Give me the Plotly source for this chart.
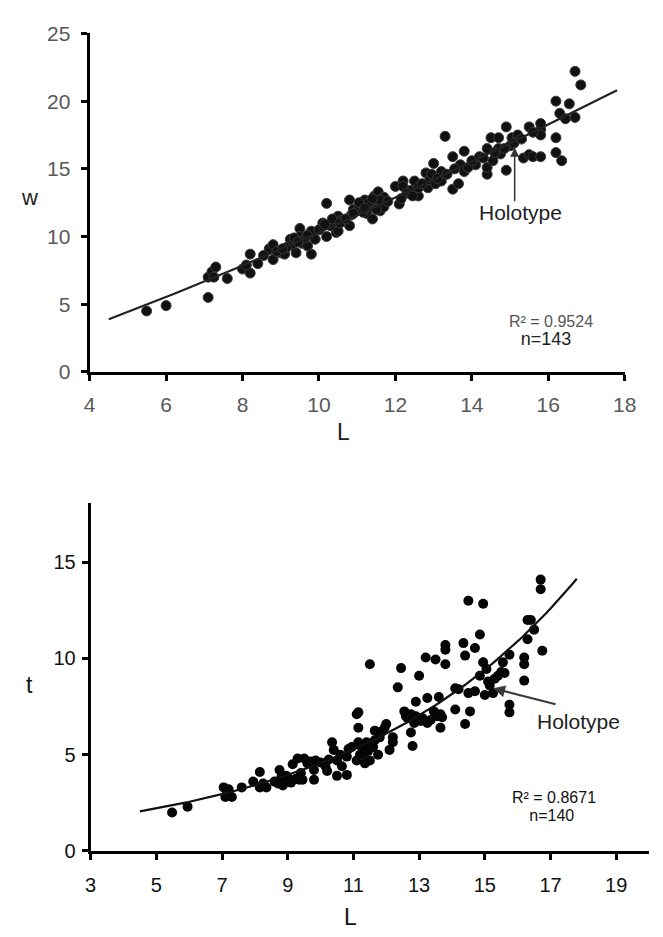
import plotly.graph_objects as go
import numpy as np

W, H = 663, 937

# ---------------- Data: upper panel (w vs L) ----------------
w_L = [5.49, 6.0, 7.1, 7.1, 7.2, 7.3, 7.6, 8.0, 8.2, 8.2, 8.4, 8.7, 8.8, 8.8, 9.0, 9.1,
       9.25, 9.3, 9.4, 9.5, 9.5, 9.55, 9.7, 9.8, 9.8, 9.9, 10.1, 10.2, 10.2, 10.4, 10.45,
       10.5, 10.5, 10.6, 10.8, 10.8, 10.85, 10.9, 11.1, 11.2, 11.25, 11.35, 11.4, 11.45,
       11.5, 11.55, 11.6, 11.7, 11.7, 12.0, 12.1, 12.2, 12.2, 12.4, 12.5, 12.6, 12.6, 12.8,
       12.85, 12.9, 13.0, 13.05, 13.2, 13.2, 13.3, 13.5, 13.5, 13.65, 13.7, 13.8, 13.8, 14.1,
       14.2, 14.4, 14.4, 14.4, 14.5, 14.55, 14.7, 14.7, 14.75, 14.9, 14.9, 15.0, 15.05, 15.2,
       15.35, 15.5, 15.5, 15.6, 15.8, 15.8, 15.8, 15.8, 16.2, 16.2, 16.2, 16.3, 16.35, 16.45,
       16.55, 16.7, 16.7, 16.85,
       9.15, 9.35, 9.45, 9.65, 10.0, 10.3, 10.35, 10.55, 10.7, 11.0, 11.05, 11.15, 11.3, 11.5,
       11.6, 11.4, 11.8, 12.3, 12.45, 12.7, 12.95, 13.1, 13.35, 13.55, 13.9, 14.0, 14.3, 14.6,
       14.85, 15.1, 15.3, 15.6, 7.25, 8.1, 8.55, 8.9, 9.05, 9.7, 10.15, 10.9, 11.2, 12.15]
w_val = [4.5, 4.9, 5.5, 7.0, 7.4, 7.75, 6.9, 7.6, 8.7, 7.3, 8.0, 9.1, 9.4, 8.3, 8.8, 8.7,
         9.8, 9.4, 8.8, 10.6, 10.0, 9.5, 9.3, 8.7, 10.4, 9.8, 11.0, 12.45, 10.0, 11.1, 10.3,
         11.5, 10.4, 11.2, 12.7, 10.8, 11.6, 12.0, 12.3, 12.7, 11.7, 12.2, 11.3, 13.0,
         12.4, 13.3, 11.9, 12.9, 12.2, 13.7, 12.4, 14.1, 13.7, 13.4, 14.1, 13.0, 13.6, 14.7,
         13.6, 14.2, 15.4, 13.9, 14.8, 14.1, 17.4, 13.5, 15.9, 13.9, 15.3, 16.3, 14.8, 15.3,
         15.9, 16.5, 14.6, 15.1, 17.3, 15.6, 16.5, 17.3, 16.1, 18.1, 14.9, 16.7, 17.3, 17.5,
         15.8, 16.05, 18.1, 15.9, 17.9, 18.35, 15.9, 17.5, 20.0, 17.3, 16.2, 19.1, 15.6, 18.7,
         19.8, 22.2, 18.8, 21.2,
         9.2, 9.9, 9.6, 9.9, 10.5, 10.8, 11.3, 11.0, 11.3, 11.9, 12.5, 11.8, 12.5, 12.0,
         12.7, 12.8, 12.6, 13.2, 13.0, 13.9, 14.6, 14.3, 14.6, 15.0, 15.1, 15.6, 15.8, 16.2,
         16.5, 16.9, 17.2, 17.7, 7.0, 7.9, 8.6, 8.9, 9.1, 10.1, 10.9, 11.7, 12.1, 12.8]

# fitted trend (power): w = a * L^b
w_fit_a, w_fit_b = 0.624, 1.218
w_fit_range = [4.5, 17.8]

# ---------------- Data: lower panel (t vs L) ----------------
t_L = [5.48, 5.95, 7.05, 7.1, 7.2, 7.3, 7.6, 7.95, 8.15, 8.15, 8.35, 8.7, 8.75, 8.8, 8.85,
       8.95, 9.1, 9.15, 9.3, 9.35, 9.4, 9.5, 9.6, 9.8, 9.8, 9.85, 10.15, 10.2, 10.35, 10.4,
       10.5, 10.5, 10.65, 10.8, 10.8, 10.85, 11.1, 11.1, 11.15, 11.15, 11.15, 11.3, 11.35,
       11.4, 11.5, 11.5, 11.6, 11.65, 11.65, 11.75, 11.95, 12.1, 12.2, 12.2, 12.35, 12.45,
       12.55, 12.65, 12.75, 12.75, 12.8, 12.85, 12.9, 13.0, 13.05, 13.2, 13.25, 13.25, 13.45,
       13.5, 13.6, 13.65, 13.65, 13.8, 13.8, 13.8, 14.1, 14.1, 14.35, 14.4, 14.4, 14.5, 14.5,
       14.55, 14.7, 14.7, 14.85, 14.85, 14.95, 14.95, 15.0, 15.05, 15.15, 15.25, 15.3, 15.5,
       15.55, 15.75, 15.75, 15.75, 16.2, 16.2, 16.2, 16.3, 16.3, 16.4, 16.5, 16.7, 16.7, 16.75,
       9.0, 9.25, 9.45, 9.7, 10.0, 10.25, 10.6, 10.95, 11.2, 11.25, 11.45, 11.8, 11.85, 12.0,
       12.6, 12.9, 13.1, 13.35, 13.55, 13.7, 15.1, 15.4, 15.6, 7.15, 8.25, 8.6, 14.2]
t_val = [2.0, 2.3, 3.3, 2.8, 3.2, 2.8, 3.3, 3.6, 4.1, 3.3, 3.3, 3.5, 4.2, 3.8, 3.4,
         3.9, 3.55, 4.5, 4.8, 3.7, 4.05, 4.8, 4.55, 3.7, 4.2, 4.7, 4.4, 4.15, 5.65, 5.25,
         3.9, 4.7, 4.4, 3.95, 4.9, 5.3, 4.7, 7.1, 7.2, 6.4, 5.65, 5.05, 4.55,
         5.65, 9.7, 4.7, 5.4, 6.25, 5.75, 5.0, 6.4, 5.25, 5.9, 5.65, 8.5, 9.5,
         7.25, 6.9, 7.1, 6.15, 5.45, 6.65, 7.75, 9.1, 6.75, 10.05, 7.95, 6.65, 7.25,
         9.95, 8.0, 7.1, 6.4, 10.7, 10.45, 9.7, 8.45, 7.35, 10.8, 10.15, 6.6, 13.0, 8.2,
         7.25, 10.55, 8.3, 11.25, 9.1, 9.8, 12.85, 8.1, 9.45, 8.6, 8.2, 8.95, 9.3,
         9.8, 7.6, 7.2, 10.2, 10.05, 9.7, 8.85, 11.0, 12.0, 12.0, 11.5, 14.1, 13.6, 10.4,
         3.8, 3.75, 3.7, 4.65, 4.6, 4.75, 5.0, 5.4, 5.0, 5.4, 5.2, 5.9, 6.2, 6.6,
         7.0, 7.0, 6.9, 6.8, 7.0, 6.95, 8.8, 9.1, 9.25, 3.0, 3.5, 3.6, 8.4]

# fitted trend (exponential): t = a * exp(b * L)
t_fit_a, t_fit_b = 1.067, 0.1452
t_fit_range = [4.5, 17.8]

# tick values
w_xticks = [4, 6, 8, 10, 12, 14, 16, 18]
w_yticks = [0, 5, 10, 15, 20, 25]
t_xticks = [3, 5, 7, 9, 11, 13, 15, 17, 19]
t_yticks = [0, 5, 10, 15]

FONT = "Liberation Sans, Arial, sans-serif"

def px_x(p):
    return p / W

def px_y(p):
    return 1 - p / H

fig = go.Figure()

# upper panel
fig.add_trace(go.Scatter(x=w_L, y=w_val, mode="markers", xaxis="x", yaxis="y",
                         marker=dict(size=10, color="#111111", line=dict(color="#3a3a3a", width=1)),
                         showlegend=False))
Lw = np.linspace(w_fit_range[0], w_fit_range[1], 100)
fig.add_trace(go.Scatter(x=Lw, y=w_fit_a * Lw ** w_fit_b, mode="lines", xaxis="x", yaxis="y",
                         line=dict(color="#222222", width=2.2), showlegend=False))

# lower panel
fig.add_trace(go.Scatter(x=t_L, y=t_val, mode="markers", xaxis="x2", yaxis="y2",
                         marker=dict(size=10, color="#050505", line=dict(width=0)),
                         showlegend=False))
Lt = np.linspace(t_fit_range[0], t_fit_range[1], 100)
fig.add_trace(go.Scatter(x=Lt, y=t_fit_a * np.exp(t_fit_b * Lt), mode="lines", xaxis="x2", yaxis="y2",
                         line=dict(color="#111111", width=2.2), showlegend=False))

axis_common = dict(showline=True, linecolor="black", linewidth=3, showgrid=False, zeroline=False,
                   ticks="outside", ticklen=6, tickwidth=2.5, tickcolor="black", mirror=False)

fig.update_layout(
    width=W, height=H, margin=dict(l=0, r=0, t=0, b=0),
    paper_bgcolor="white", plot_bgcolor="white",
    xaxis=dict(domain=[px_x(86), px_x(636)], range=[4, 18], tickvals=w_xticks, anchor="y",
               ticklabelstandoff=6,
               tickfont=dict(family=FONT, size=21, color="#595959"), **axis_common),
    yaxis=dict(domain=[px_y(369), px_y(22)], range=[0, 25], tickvals=w_yticks, anchor="x",
               ticklabelstandoff=6,
               tickfont=dict(family=FONT, size=21, color="#595959"), **axis_common),
    xaxis2=dict(domain=[px_x(87), px_x(661)], range=[3, 20], tickvals=t_xticks, anchor="y2",
                ticklabelstandoff=8,
                tickfont=dict(family=FONT, size=20, color="#111111"), **axis_common),
    yaxis2=dict(domain=[px_y(860), px_y(503)], range=[0, 18.1], tickvals=t_yticks, anchor="x2",
                ticklabelstandoff=2,
                tickfont=dict(family=FONT, size=20, color="#111111"), **axis_common),
)

ann = []
# axis titles (explicitly centered)
def title(text, x, y, size, color):
    ann.append(dict(text=text, x=px_x(x), y=px_y(y), xref="paper", yref="paper", showarrow=False,
                    xanchor="center", yanchor="middle",
                    font=dict(family=FONT, size=size, color=color)))

title("w", 24, 190, 22, "#222")
title("L", 347, 431, 23, "#222")
title("t", 24, 690, 23, "#111")
title("L", 354, 928, 23, "#111")

# Holotype (upper): arrow + label
ann.append(dict(text="", x=15.12, y=16.55, xref="x", yref="y", ax=15.12, ay=12.5,
                axref="x", ayref="y", showarrow=True, arrowhead=2, arrowsize=1.2, arrowwidth=1.5,
                arrowcolor="#333"))
ann.append(dict(text="Holotype", x=15.26, y=11.75, xref="x", yref="y", showarrow=False,
                xanchor="center", yanchor="middle",
                font=dict(family=FONT, size=21, color="#222")))
# Holotype (lower): arrow + label
ann.append(dict(text="", x=15.25, y=8.45, xref="x2", yref="y2", ax=17.2, ay=7.6,
                axref="x2", ayref="y2", showarrow=True, arrowhead=2, arrowsize=1.2, arrowwidth=2,
                arrowcolor="#3a3a3a"))
ann.append(dict(text="Holotype", x=17.84, y=6.75, xref="x2", yref="y2", showarrow=False,
                xanchor="center", yanchor="middle",
                font=dict(family=FONT, size=21, color="#222")))

# R² / n texts (one block each)
ann.append(dict(text="<span style='font-size:16px;color:#555'>R² = 0.9524</span><br>"
                     "<span style='font-size:18px;color:#222'>n=143\u00a0\u00a0</span>",
                x=16.08, y=3.05, xref="x", yref="y", showarrow=False,
                xanchor="center", yanchor="middle", align="center",
                font=dict(family=FONT, size=14, color="#222")))
ann.append(dict(text="<span style='font-size:16px'>R² = 0.8671</span><br>"
                     "<span style='font-size:16px'>n=140\u00a0</span>",
                x=17.12, y=2.3, xref="x2", yref="y2", showarrow=False,
                xanchor="center", yanchor="middle", align="center",
                font=dict(family=FONT, size=13.5, color="#111")))
fig.update_layout(annotations=ann)

fig.write_html("out.html", config={"displayModeBar": False},
               post_script="document.body.style.margin='0';")
